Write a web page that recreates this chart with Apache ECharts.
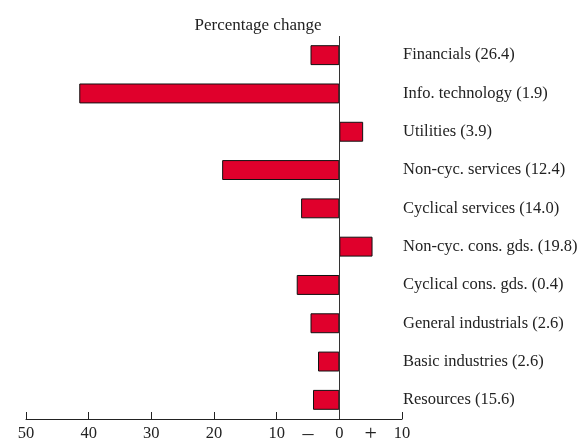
<!DOCTYPE html>
<html><head><meta charset="utf-8">
<script src="https://cdn.jsdelivr.net/npm/echarts@6/dist/echarts.min.js"></script>
<style>html,body{margin:0;padding:0;background:#fff}#c{width:583px;height:439px}</style>
</head><body><div id="c"></div>
<script>
const categories = ["Financials (26.4)","Info. technology (1.9)","Utilities (3.9)","Non-cyc. services (12.4)","Cyclical services (14.0)","Non-cyc. cons. gds. (19.8)","Cyclical cons. gds. (0.4)","General industrials (2.6)","Basic industries (2.6)","Resources (15.6)"];
const values = [-4.6,-41.5,3.8,-18.7,-6.1,5.3,-6.8,-4.6,-3.4,-4.2];
const tickLabels = {"-50":"50","-40":"40","-30":"30","-20":"20","-10":"10","0":"0","10":"10"};
const signLabels = {"-5":"–","5":"+"};
const FONT = "Liberation Serif";
const chart = echarts.init(document.getElementById('c'));
chart.setOption({
  animation:false,
  title:{text:"Percentage change",left:253,top:12,textAlign:'center',textStyle:{fontFamily:FONT,fontSize:17,fontWeight:'normal',color:'#222'}},
  grid:{left:26,right:181,top:36,bottom:20,outerBoundsMode:'none',containLabel:false},
  xAxis:[{
    type:'value',min:-50,max:10,interval:10,
    axisLine:{show:true,lineStyle:{color:'#222',width:1}},
    axisTick:{show:true,inside:true,length:7,lineStyle:{color:'#222'}},
    splitLine:{show:false},
    axisLabel:{margin:6,fontFamily:FONT,fontSize:16.5,color:'#222',formatter:v=>tickLabels[String(v)]??''}
  },{
    type:'value',min:-50,max:10,interval:5,position:'bottom',
    axisLine:{show:false},axisTick:{show:false},splitLine:{show:false},
    axisLabel:{margin:4,fontFamily:FONT,fontSize:22,color:'#222',formatter:v=>signLabels[String(v)]??''}
  }],
  yAxis:{
    type:'category',data:categories,inverse:true,position:'right',
    axisLine:{show:false},axisTick:{show:false},
    axisLabel:{margin:1,align:'left',fontFamily:FONT,fontSize:16.5,color:'#222'}
  },
  series:[{
    type:'bar',data:values,barWidth:'52%',
    itemStyle:{color:'#e0002c',borderColor:'#111',borderWidth:1},
    markLine:{silent:true,symbol:'none',label:{show:false},lineStyle:{color:'#333',width:1,type:'solid'},data:[{xAxis:0}]}
  }]
});
</script></body></html>
